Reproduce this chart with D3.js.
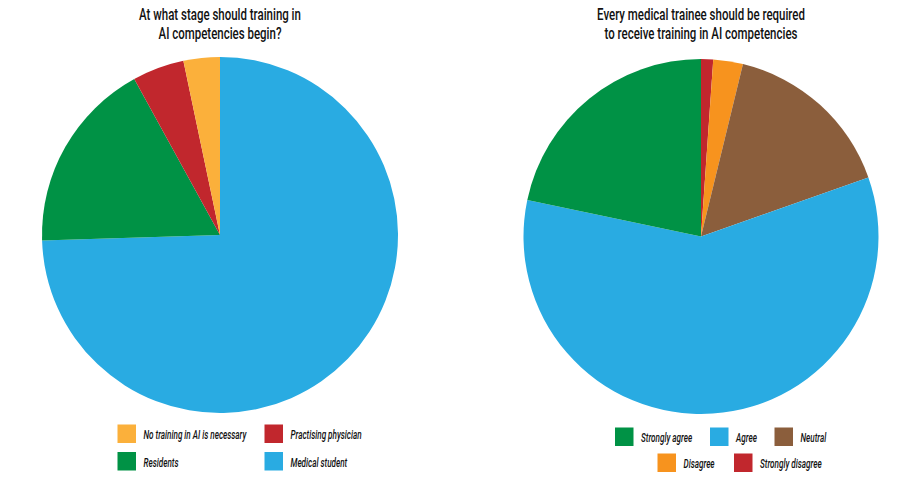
<!DOCTYPE html>
<html><head><meta charset="utf-8">
<script src="https://cdn.jsdelivr.net/npm/d3@7"></script>
<style>
body{margin:0;background:#fff;}
text{font-family:Roboto,"Noto Sans",sans-serif;fill:#111;}
</style></head>
<body><svg id="c" width="919" height="482"></svg>
<script>
const stageTitle = ["At what stage should training in","AI competencies begin?"];
const stageLabels = ["Medical student","Residents","Practising physician","No training in AI is necessary"];
const stageValues = [74.5,17.5,4.7,3.3];
const stageLegendRows = [["No training in AI is necessary","Practising physician"],["Residents","Medical student"]];

const agreeTitle = ["Every medical trainee should be required","to receive training in AI competencies"];
const agreeLabels = ["Strongly disagree","Disagree","Neutral","Agree","Strongly agree"];
const agreeValues = [1.1,2.7,15.8,58.7,21.7];
const agreeLegendRows = [["Strongly agree","Agree","Neutral"],["Disagree","Strongly disagree"]];

const colorMap = {
  "Medical student":"#29ABE2","Residents":"#009245","Practising physician":"#C1272D","No training in AI is necessary":"#FBB03B",
  "Strongly disagree":"#C1272D","Disagree":"#F7931E","Neutral":"#8B5E3C","Agree":"#29ABE2","Strongly agree":"#009245"
};

const svg = d3.select("#c");

// horizontal condensing factors (reference font is a condensed face)
function measure(str, size, style, weight){
  const t = svg.append("text").attr("font-size",size).attr("font-style",style).attr("font-weight",weight).text(str);
  const w = t.node().getComputedTextLength(); t.remove(); return w;
}
const TITLE_SIZE = 16.5, LEG_SIZE = 13;
const titleSX = 162 / measure("At what stage should training in", TITLE_SIZE, "normal", 500);
const legSX = 103 / measure("No training in AI is necessary", LEG_SIZE, "italic", 500);

function condText(parent, x, y, str, size, sx, anchor, style){
  parent.append("text")
    .attr("transform",`translate(${x},${y}) scale(${sx},1)`)
    .attr("text-anchor",anchor).attr("font-size",size).attr("font-style",style)
    .attr("font-weight",500)
    .text(str);
}

function drawPie(cfg){
  const g = svg.append("g");
  const color = d3.scaleOrdinal().domain(cfg.labels).range(cfg.labels.map(l=>colorMap[l]));
  const pie = d3.pie().sort(null).value(d=>d.v);
  const arc = d3.arc().innerRadius(0).outerRadius(cfg.r);
  const data = cfg.labels.map((l,i)=>({l, v:cfg.values[i]}));
  g.append("g").attr("transform",`translate(${cfg.cx},${cfg.cy})`)
    .selectAll("path").data(pie(data)).join("path")
    .attr("d",arc).attr("fill",d=>color(d.data.l));
  cfg.title.forEach((t,i)=>condText(g, cfg.cx, cfg.titleY + i*19, t, TITLE_SIZE, titleSX, "middle", "normal"));
  cfg.legend.forEach((row,ri)=>{
    row.forEach((l,ci)=>{
      const x = cfg.legX[ri][ci], y = cfg.legY[ri];
      g.append("rect").attr("x",x).attr("y",y).attr("width",18.5).attr("height",18.5).attr("fill",color(l));
      condText(g, x+26, y+14.5, l, LEG_SIZE, legSX, "start", "italic");
    });
  });
}

drawPie({cx:220,cy:235,r:178,labels:stageLabels,values:stageValues,title:stageTitle,titleY:19.5,
  legend:stageLegendRows,legX:[[117.5,264.5],[117.5,264.5]],legY:[424.5,452]});
drawPie({cx:701,cy:236.5,r:177.5,labels:agreeLabels,values:agreeValues,title:agreeTitle,titleY:19.5,
  legend:agreeLegendRows,legX:[[615,710,774.5],[657.5,734]],legY:[427.5,453.5]});
</script></body></html>
